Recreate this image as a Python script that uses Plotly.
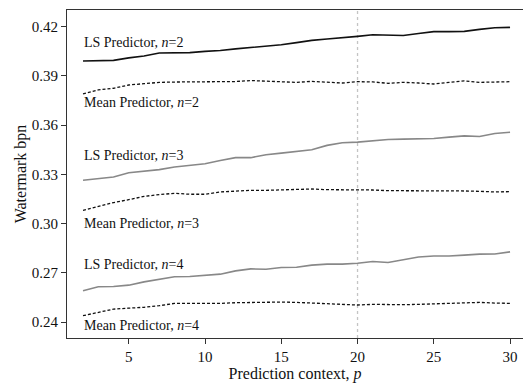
import plotly.graph_objects as go

p = list(range(2, 31))

ls_n2 = [0.3991, 0.3993, 0.3995, 0.4010, 0.4022, 0.4040, 0.4042, 0.4042, 0.4050, 0.4055,
         0.4065, 0.4072, 0.4080, 0.4090, 0.4103, 0.4117, 0.4125, 0.4131, 0.4141, 0.4151,
         0.4147, 0.4147, 0.4159, 0.4170, 0.4170, 0.4172, 0.4184, 0.4194, 0.4196]
mean_n2 = [0.3791, 0.3815, 0.3825, 0.3845, 0.3853, 0.3861, 0.3863, 0.3864, 0.3864, 0.3865,
           0.3866, 0.3872, 0.3868, 0.3862, 0.3861, 0.3867, 0.3861, 0.3857, 0.3865, 0.3864,
           0.3855, 0.3861, 0.3857, 0.3851, 0.3861, 0.3870, 0.3861, 0.3861, 0.3865]
ls_n3 = [0.3264, 0.3272, 0.3284, 0.3310, 0.3320, 0.3329, 0.3345, 0.3355, 0.3365, 0.3385,
         0.3402, 0.3402, 0.3420, 0.3430, 0.3438, 0.3450, 0.3477, 0.3493, 0.3497, 0.3507,
         0.3513, 0.3515, 0.3515, 0.3519, 0.3527, 0.3535, 0.3531, 0.3549, 0.3557]
mean_n3 = [0.3081, 0.3104, 0.3128, 0.3146, 0.3166, 0.3177, 0.3185, 0.3179, 0.3179, 0.3193,
           0.3199, 0.3203, 0.3203, 0.3207, 0.3207, 0.3211, 0.3207, 0.3207, 0.3205, 0.3205,
           0.3201, 0.3201, 0.3203, 0.3203, 0.3199, 0.3199, 0.3197, 0.3193, 0.3195]
ls_n4 = [0.2591, 0.2615, 0.2617, 0.2625, 0.2645, 0.2660, 0.2676, 0.2678, 0.2686, 0.2692,
         0.2712, 0.2724, 0.2722, 0.2733, 0.2734, 0.2747, 0.2753, 0.2753, 0.2759, 0.2769,
         0.2763, 0.2782, 0.2797, 0.2803, 0.2803, 0.2808, 0.2814, 0.2815, 0.2828]
mean_n4 = [0.2439, 0.2459, 0.2479, 0.2485, 0.2490, 0.2500, 0.2514, 0.2514, 0.2512, 0.2514,
           0.2518, 0.2520, 0.2524, 0.2522, 0.2520, 0.2516, 0.2512, 0.2508, 0.2504, 0.2508,
           0.2506, 0.2506, 0.2508, 0.2510, 0.2512, 0.2516, 0.2520, 0.2516, 0.2514]

labels = ["LS Predictor, <i>n</i>=2", "Mean Predictor, <i>n</i>=2",
          "LS Predictor, <i>n</i>=3", "Mean Predictor, <i>n</i>=3",
          "LS Predictor, <i>n</i>=4", "Mean Predictor, <i>n</i>=4"]
label_y = [0.4105, 0.3740, 0.3416, 0.3000, 0.2753, 0.2382]

x_ticks = [5, 10, 15, 20, 25, 30]
y_ticks = [0.24, 0.27, 0.30, 0.33, 0.36, 0.39, 0.42]
marker_p = 20

FONT = "Liberation Serif"

fig = go.Figure()
series = [
    (ls_n2, "#111111", "solid", 1.6),
    (mean_n2, "#111111", "3px,2px", 1.3),
    (ls_n3, "#888888", "solid", 1.6),
    (mean_n3, "#111111", "3px,2px", 1.3),
    (ls_n4, "#888888", "solid", 1.6),
    (mean_n4, "#111111", "3px,2px", 1.3),
]
for vals, col, dash, w in series:
    fig.add_trace(go.Scatter(x=p, y=vals, mode="lines",
                             line=dict(color=col, dash=dash, width=w),
                             showlegend=False, hoverinfo="skip"))

for txt, yy in zip(labels, label_y):
    fig.add_annotation(x=1.92, y=yy, text=txt, showarrow=False,
                       xanchor="left", yanchor="middle",
                       font=dict(family=FONT, size=14, color="#111111"))

fig.add_shape(type="line", x0=marker_p, x1=marker_p, y0=0, y1=1, yref="paper",
              line=dict(color="#c4c4c4", width=1.3, dash="dot"), layer="below")

fig.update_layout(
    width=523, height=383,
    margin=dict(l=67, r=0, t=10, b=45),
    paper_bgcolor="white", plot_bgcolor="white",
    font=dict(family=FONT, size=15, color="#111111"),
)
fig.update_xaxes(range=[0.95, 30.85], tickvals=x_ticks, ticks="outside", ticklen=5,
                 tickcolor="#333333", showline=True, linecolor="#333333", linewidth=1.2,
                 mirror=True, showgrid=False, zeroline=False,
                 title=dict(text="Prediction context, <i>p</i>", font=dict(size=16), standoff=4),
                 tickfont=dict(size=15))
fig.update_yaxes(range=[0.2303, 0.4302], tickvals=y_ticks,
                 ticktext=[f"{v:.2f}" for v in y_ticks], ticks="outside", ticklen=5,
                 tickcolor="#333333", showline=True, linecolor="#333333", linewidth=1.2,
                 showgrid=False, zeroline=False,
                 title=dict(text="Watermark bpn", font=dict(size=16), standoff=1),
                 tickfont=dict(size=15))

fig.write_html("out.html", config={"displayModeBar": False},
               post_script="document.body.style.margin='0';document.body.style.overflow='hidden';")
